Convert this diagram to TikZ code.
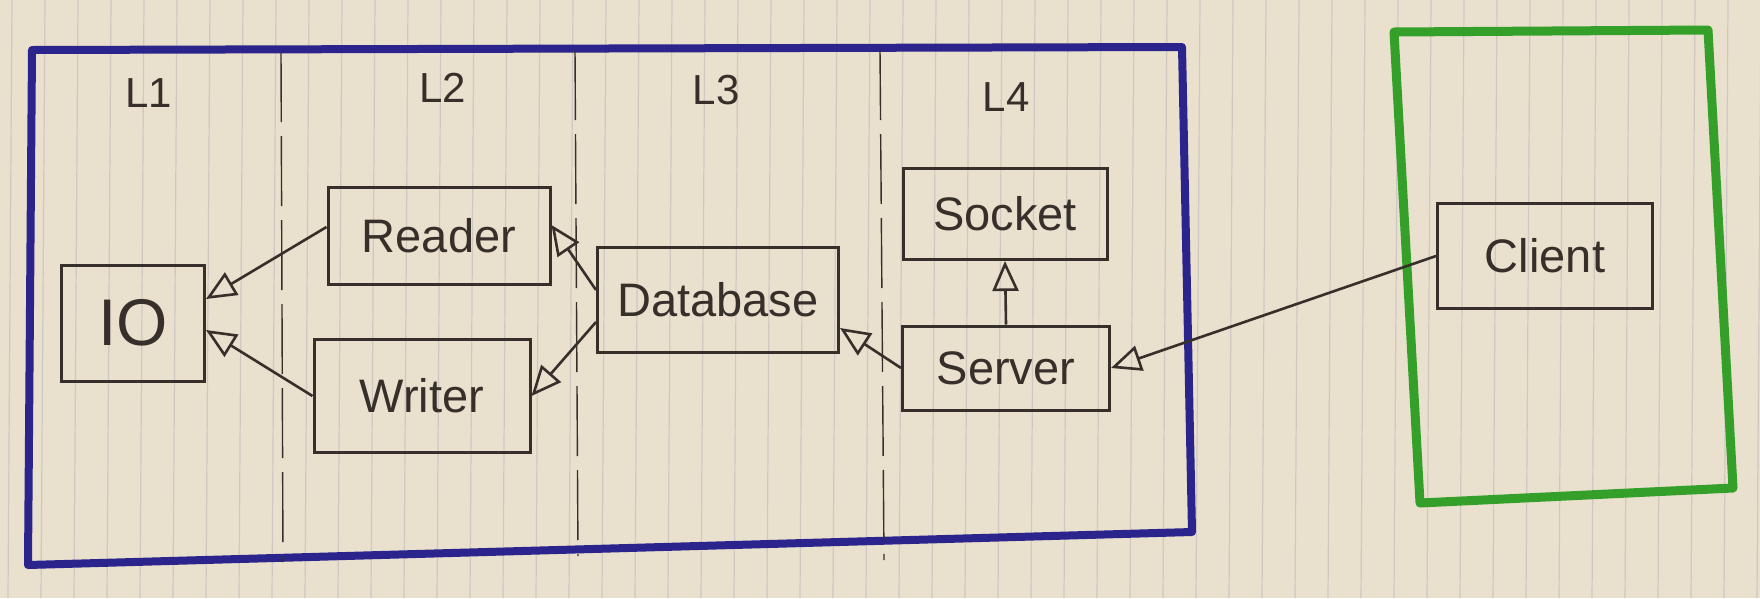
\documentclass[tikz,border=0pt]{standalone}
\usepackage{fontspec}
\setmainfont{Liberation Sans}
\usetikzlibrary{arrows.meta}
\definecolor{paper}{RGB}{234,224,206}
\definecolor{rulecol}{RGB}{205,200,196}
\definecolor{ink}{RGB}{55,48,42}
\definecolor{bluepen}{RGB}{42,36,140}
\definecolor{greenpen}{RGB}{52,160,42}
\tikzset{
  cls/.style={draw=ink, line width=3pt, fill=none, inner sep=0pt,
    font=\fontsize{47pt}{52pt}\selectfont, text=ink},
  gen/.style={draw=ink, line width=2.6pt,
    -{Triangle[open, length=30pt, width=26pt, line width=2.6pt]}},
  layerlabel/.style={font=\fontsize{42pt}{48pt}\selectfont, text=ink},
  sep/.style={draw=ink, line width=1.4pt, dash pattern=on 70pt off 14pt},
  paperrule/.style={draw=rulecol, line width=1.2pt}
}
\begin{document}
\begin{tikzpicture}[x=1pt, y=-1pt]
\useasboundingbox (0,0) rectangle (1760,598);
\fill[paper] (0,0) rectangle (1760,598);
\foreach \i in {0,...,53} {
  \draw[paperrule] ({12+33*\i},0) -- ({8+33*\i},598);
}
% frames
\draw[bluepen, line width=8pt, line join=round]
  (32,50) -- (1182,47) -- (1192,532) -- (28,565) -- cycle;
\draw[greenpen, line width=9pt, line join=round]
  (1394,32) -- (1708,30) -- (1733,488) -- (1420,503) -- cycle;
% layer separators
\coordinate (s1t) at (281,52); \coordinate (s1b) at (283,562);
\coordinate (s2t) at (575,50); \coordinate (s2b) at (578,556);
\coordinate (s3t) at (880,50); \coordinate (s3b) at (884,560);
\draw[sep] (s1t) -- (s1b);
\draw[sep] (s2t) -- (s2b);
\draw[sep] (s3t) -- (s3b);
% labels
\node[layerlabel] (l1) at (149,93) {L1};
\node[layerlabel] (l2) at (443,88) {L2};
\node[layerlabel] (l3) at (716,90) {L3};
\node[layerlabel] (l4) at (1006,97) {L4};
% classes
\node[cls, minimum width=143pt, minimum height=116pt,
  font=\fontsize{66pt}{72pt}\selectfont] (io) at (133,323) {IO};
\node[cls, minimum width=222pt, minimum height=97pt] (reader) at (439,236) {Reader};
\node[cls, minimum width=216pt, minimum height=113pt] (writer) at (422,396) {Writer};
\node[cls, minimum width=241pt, minimum height=105pt] (db) at (718,300) {Database};
\node[cls, minimum width=204pt, minimum height=91pt] (socket) at (1005,214) {Socket};
\node[cls, minimum width=207pt, minimum height=84pt] (server) at (1006,368) {Server};
\node[cls, minimum width=215pt, minimum height=105pt] (client) at (1545,256) {Client};
% relations
\draw[gen] ([yshift=9pt]reader.west) -- ([yshift=24pt]io.east);
\draw[gen] (writer.west) -- ([yshift=-7pt]io.east);
\draw[gen] ([yshift=10pt]db.west) -- ([yshift=11pt]reader.east);
\draw[gen] ([yshift=-22pt]db.west) -- (writer.east);
\draw[gen] (server.west) -- ([yshift=-28pt]db.east);
\draw[gen] (server.north) -- (socket.south);
\draw[gen] (client.west) -- (server.east);
\end{tikzpicture}
\end{document}
